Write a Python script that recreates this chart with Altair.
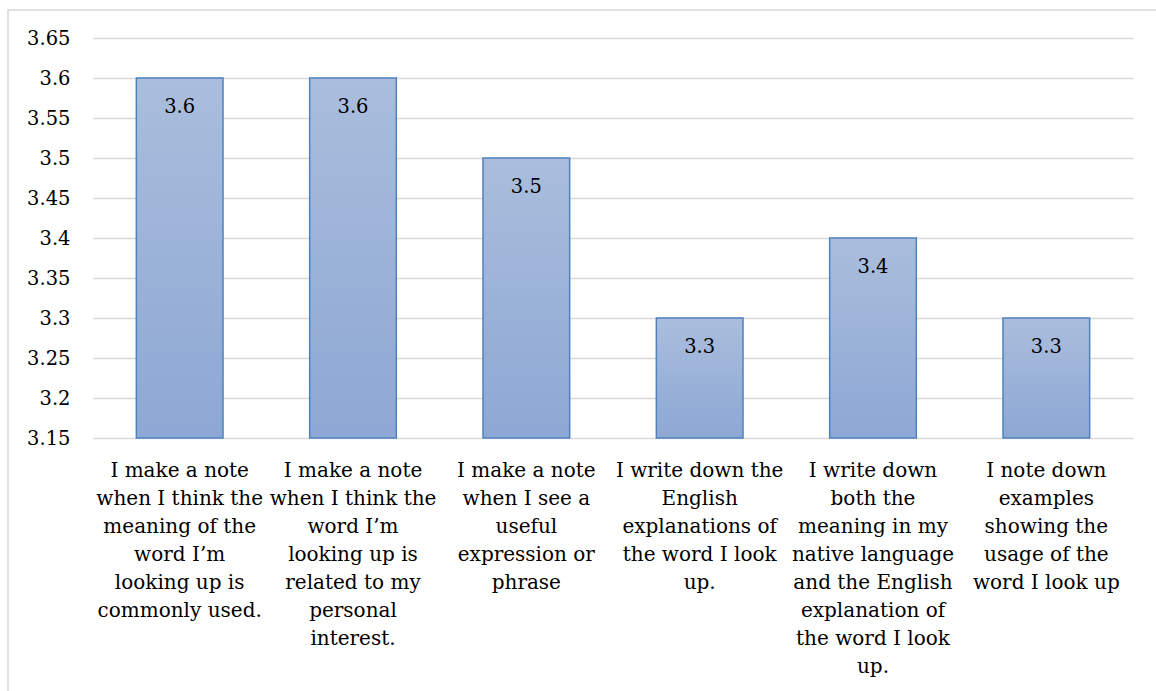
import altair as alt
import pandas as pd

# Survey items (line breaks mark the wrapped axis labels)
categories = [
    "I make a note\nwhen I think the\nmeaning of the\nword I\u2019m\nlooking up is\ncommonly used.",
    "I make a note\nwhen I think the\nword I\u2019m\nlooking up is\nrelated to my\npersonal\ninterest.",
    "I make a note\nwhen I see a\nuseful\nexpression or\nphrase",
    "I write down the\nEnglish\nexplanations of\nthe word I look\nup.",
    "I write down\nboth the\nmeaning in my\nnative language\nand the English\nexplanation of\nthe word I look\nup.",
    "I note down\nexamples\nshowing the\nusage of the\nword I look up",
]
mean_scores = [3.6, 3.6, 3.5, 3.3, 3.4, 3.3]
y_ticks = [3.15, 3.2, 3.25, 3.3, 3.35, 3.4, 3.45, 3.5, 3.55, 3.6, 3.65]

df = pd.DataFrame({"item": categories, "score": mean_scores})

FONT = "DejaVu Serif"

x_enc = alt.X(
    "item:N",
    sort=None,
    title=None,
    scale=alt.Scale(paddingInner=0.5, paddingOuter=0.25),
    axis=alt.Axis(
        labelExpr="split(datum.label, '\\n')",
        labelAngle=0,
        labelFont=FONT,
        labelFontSize=20,
        labelLineHeight=28,
        labelColor="#000000",
        labelPadding=22,
        labelLimit=0,
        ticks=False,
        domain=False,
        grid=False,
    ),
)
y_enc = alt.Y(
    "score:Q",
    title=None,
    scale=alt.Scale(domain=[3.15, 3.65], nice=False, zero=False),
    axis=alt.Axis(
        values=y_ticks,
        format=".2~f",
        labelFont=FONT,
        labelFontSize=19.5,
        labelColor="#000000",
        labelPadding=23,
        ticks=False,
        domain=False,
        grid=True,
        gridColor="#D9D9D9",
        gridWidth=1.5,
    ),
)

bar_fill = alt.Gradient(
    gradient="linear",
    stops=[
        alt.GradientStop(color="#AABDDC", offset=0),
        alt.GradientStop(color="#8DA8D4", offset=1),
    ],
    x1=0, x2=0, y1=0, y2=1,
)

bars = alt.Chart(df).mark_bar(
    color=bar_fill, stroke="#4F81BD", strokeWidth=1.5
).encode(x=x_enc, y=y_enc, y2=alt.datum(3.15))

labels = alt.Chart(df).mark_text(
    font=FONT, fontSize=19.5, color="#000000", baseline="middle", dy=29
).encode(x=x_enc, y=y_enc, text=alt.Text("score:Q", format=".2~f"))

frame = alt.Chart(pd.DataFrame({"k": [0]})).mark_rect(
    fill="transparent", stroke="#D9D9D9", strokeWidth=1.5
).encode(
    x=alt.value(-85), x2=alt.value(1200),
    y=alt.value(-28), y2=alt.value(720),
)

chart = alt.layer(frame, bars, labels).properties(
    width=1040,
    height=400,
    autosize=alt.AutoSizeParams(type="none"),
    padding={"left": 93, "top": 38, "right": 23, "bottom": 253},
).configure(
    background="white",
    view=alt.ViewConfig(stroke="transparent", strokeWidth=0),
)

chart.save("out.html", embed_options={"renderer": "svg", "actions": False})
